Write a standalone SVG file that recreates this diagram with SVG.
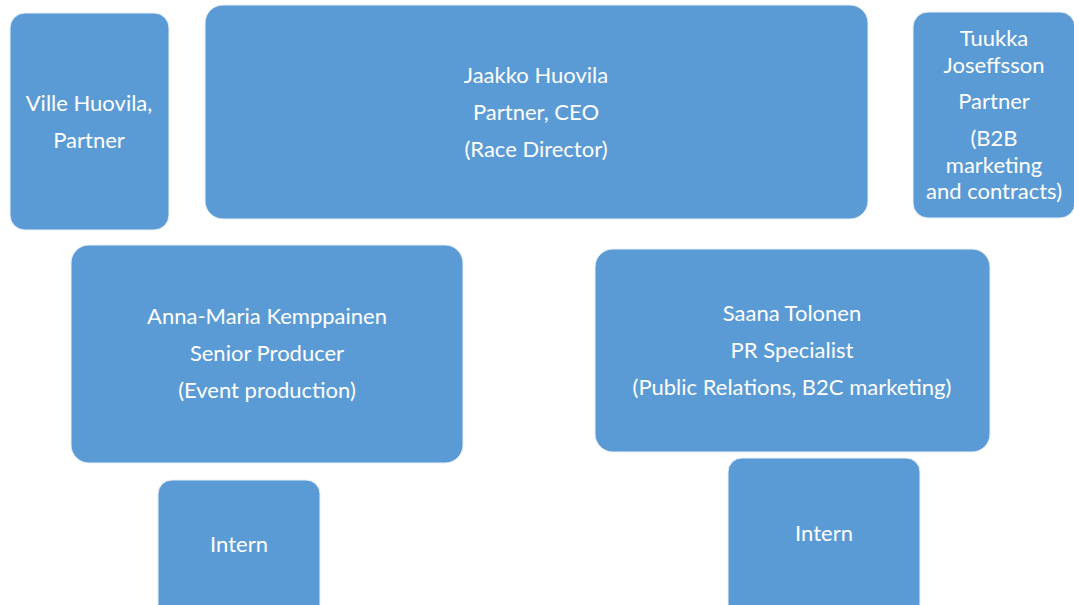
<svg xmlns="http://www.w3.org/2000/svg" width="1074" height="605" viewBox="0 0 1074 605">
<style>
.box{fill:#5B9BD5;stroke:#E8F0F8;stroke-width:1}
.t{font-family:Lato,"Liberation Sans",sans-serif;font-size:22px;fill:#FFFFFF;text-anchor:middle}
</style>
<rect width="1074" height="605" fill="#FFFFFF"/>
<g id="connectors"></g>
<g id="ville">
<rect class="box" x="10" y="13" width="159" height="217" rx="15"/>
<text class="t" x="89" y="111">Ville Huovila,</text>
<text class="t" x="89" y="148">Partner</text>
</g>
<g id="jaakko">
<rect class="box" x="205" y="5" width="663" height="214" rx="18"/>
<text class="t" x="536" y="83">Jaakko Huovila</text>
<text class="t" x="536" y="120">Partner, CEO</text>
<text class="t" x="536" y="157">(Race Director)</text>
</g>
<g id="tuukka">
<rect class="box" x="913" y="12" width="162" height="206" rx="15"/>
<text class="t" x="994" y="46">Tuukka</text>
<text class="t" x="994" y="73">Joseffsson</text>
<text class="t" x="994" y="109">Partner</text>
<text class="t" x="994" y="146">(B2B</text>
<text class="t" x="994" y="173">marketing</text>
<text class="t" x="994" y="199">and contracts)</text>
</g>
<g id="anna">
<rect class="box" x="71" y="245" width="392" height="218" rx="18"/>
<text class="t" x="267" y="324">Anna-Maria Kemppainen</text>
<text class="t" x="267" y="361">Senior Producer</text>
<text class="t" x="267" y="398">(Event production)</text>
</g>
<g id="saana">
<rect class="box" x="595" y="249" width="395" height="203" rx="18"/>
<text class="t" x="792" y="321">Saana Tolonen</text>
<text class="t" x="792" y="358">PR Specialist</text>
<text class="t" x="792" y="395">(Public Relations, B2C marketing)</text>
</g>
<g id="intern1">
<rect class="box" x="158" y="480" width="162" height="140" rx="14"/>
<text class="t" x="239" y="552">Intern</text>
</g>
<g id="intern2">
<rect class="box" x="728" y="458" width="192" height="160" rx="14"/>
<text class="t" x="824" y="541">Intern</text>
</g>
</svg>
